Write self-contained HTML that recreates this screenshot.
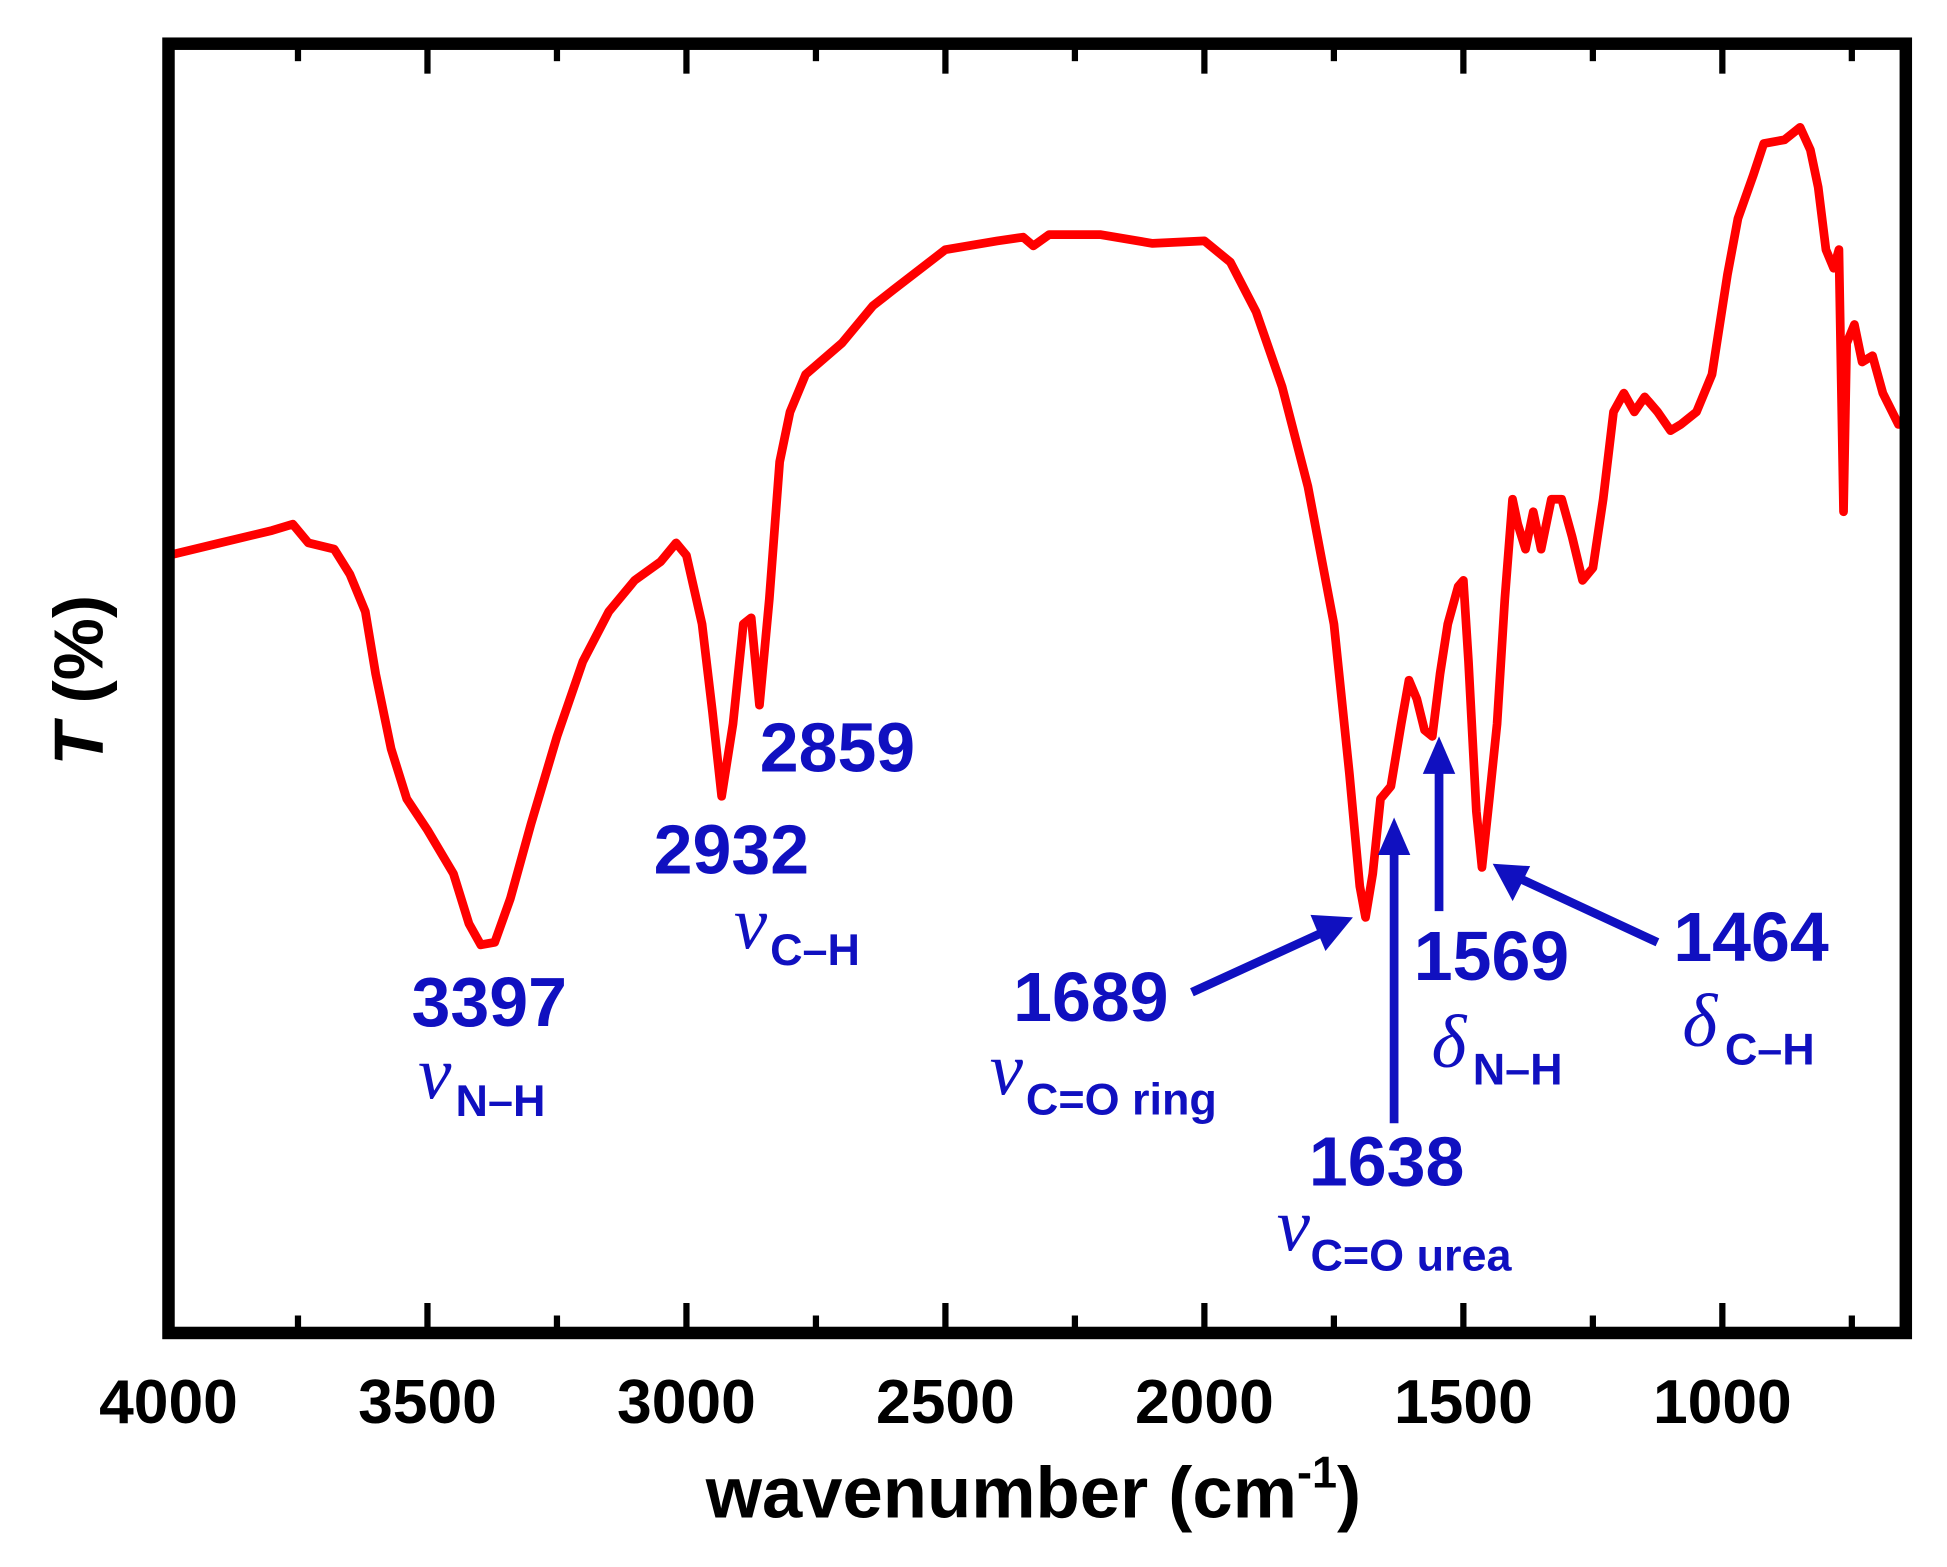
<!DOCTYPE html>
<html><head><meta charset="utf-8"><style>
html,body{margin:0;padding:0;background:#fff;}
svg{display:block;}
.tk{font:bold 50px "Liberation Sans",sans-serif;text-anchor:middle;fill:#000;}
.ann{font-family:"Liberation Sans",sans-serif;font-weight:bold;fill:#1010c0;}
.gr{font-family:"Liberation Serif",serif;font-style:italic;fill:#1010c0;}
</style></head><body>
<svg id="chart" width="1947" height="1567" viewBox="0 0 1560 1255.5" xmlns="http://www.w3.org/2000/svg">
<g id="ticks"></g>
<path id="spectrum" fill="none" stroke="#ff0000" stroke-width="7" stroke-linejoin="round"/>
<rect x="135" y="35" width="1392" height="1033" fill="none" stroke="#000" stroke-width="10"/>
<g id="ticklabels"></g>
<text x="828" y="1216" text-anchor="middle" style="font:bold 58px 'Liberation Sans',sans-serif">wavenumber (cm<tspan dy="-24" font-size="36">-1</tspan><tspan dy="24">)</tspan></text>
<text transform="translate(82,545) rotate(-90)" text-anchor="middle" style="font:bold 56px 'Liberation Sans',sans-serif"><tspan font-style="italic">T</tspan> (%)</text>
<g>
<g fill="#1010c0" stroke="#1010c0" stroke-width="7">
<line x1="955" y1="795" x2="1060" y2="747"/><polygon stroke="none" points="1084,735 1050,733 1062,762"/>
<line x1="1117" y1="900" x2="1117" y2="680"/><polygon stroke="none" points="1117,655 1104,685 1130,685"/>
<line x1="1153" y1="730" x2="1153" y2="615"/><polygon stroke="none" points="1153,590 1140,620 1166,620"/>
<line x1="1328" y1="755" x2="1218" y2="704"/><polygon stroke="none" points="1196,692 1212,722 1226,694"/>
</g>
<text class="ann" font-size="56" x="392" y="822" text-anchor="middle">3397</text>
<text class="gr" font-size="60" x="335" y="880">ν</text><text class="ann" font-size="36" x="365" y="894">N–H</text>
<text class="ann" font-size="56" x="586" y="700" text-anchor="middle">2932</text>
<text class="ann" font-size="56" x="671" y="618" text-anchor="middle">2859</text>
<text class="gr" font-size="60" x="588" y="760">ν</text><text class="ann" font-size="36" x="617" y="773">C–H</text>
<text class="ann" font-size="56" x="874" y="818" text-anchor="middle">1689</text>
<text class="gr" font-size="60" x="793" y="877">ν</text><text class="ann" font-size="36" x="822" y="893">C=O ring</text>
<text class="ann" font-size="56" x="1111" y="950" text-anchor="middle">1638</text>
<text class="gr" font-size="60" x="1023" y="1002">ν</text><text class="ann" font-size="36" x="1050" y="1018">C=O urea</text>
<text class="ann" font-size="56" x="1195" y="785" text-anchor="middle">1569</text>
<text class="gr" font-size="60" x="1147" y="855">δ</text><text class="ann" font-size="36" x="1180" y="869">N–H</text>
<text class="ann" font-size="56" x="1403" y="770" text-anchor="middle">1464</text>
<text class="gr" font-size="60" x="1348" y="838">δ</text><text class="ann" font-size="36" x="1382" y="853">C–H</text>
</g>
</svg>
<script>
const wavenumbers=[4000,3900,3800,3760,3730,3680,3650,3620,3600,3570,3540,3500,3450,3420,3397,3370,3340,3300,3250,3200,3150,3100,3050,3020,3000,2970,2950,2932,2910,2890,2875,2859,2840,2820,2800,2770,2700,2640,2600,2500,2400,2350,2330,2300,2200,2100,2000,1950,1900,1850,1800,1750,1720,1700,1689,1675,1660,1640,1620,1605,1590,1575,1560,1545,1530,1510,1500,1490,1475,1464,1450,1435,1420,1405,1395,1380,1365,1350,1330,1310,1290,1270,1250,1230,1210,1190,1170,1150,1125,1100,1080,1050,1020,990,970,940,920,880,850,830,815,800,785,775,766,760,745,730,710,690,660,650];
const pixY=[445,435,425,420,435,440,460,490,540,600,640,665,700,740,757,755,720,660,590,530,490,465,450,435,445,500,570,638,580,500,495,565,480,370,330,300,275,245,232,200,193,190,197,188,188,195,193,210,250,310,390,500,620,710,735,700,640,630,580,545,560,585,590,540,500,470,465,530,650,695,640,580,480,400,420,440,410,440,400,400,430,465,455,400,330,315,330,318,330,345,340,330,300,220,175,140,115,112,102,120,150,200,215,200,410,275,260,290,285,315,340,340];
const transmittance=pixY.map(p=>+((1068-p)/10.33).toFixed(2));
const majorTicks=[4000,3500,3000,2500,2000,1500,1000];
const minorTicks=[3750,3250,2750,2250,1750,1250,750];
const tickLabels=["4000","3500","3000","2500","2000","1500","1000"];
const X=w=>135+(4000-w)*0.415;
const Y=t=>1068-t*10.33;
const NS="http://www.w3.org/2000/svg";
let d="";
wavenumbers.forEach((w,i)=>{d+=(i?"L":"M")+X(w).toFixed(1)+","+Y(transmittance[i]).toFixed(1);});
document.getElementById("spectrum").setAttribute("d",d);
const tg=document.getElementById("ticks"),lg=document.getElementById("ticklabels");
function tick(w,len){
 [[1068,-1],[35,1]].forEach(([y0,s])=>{
  const l=document.createElementNS(NS,"line");
  l.setAttribute("x1",X(w));l.setAttribute("x2",X(w));
  l.setAttribute("y1",y0);l.setAttribute("y2",y0+s*len);
  l.setAttribute("stroke","#000");l.setAttribute("stroke-width","5");
  
  
  tg.appendChild(l);
 });
}
majorTicks.forEach(w=>tick(w,24));
minorTicks.forEach(w=>tick(w,14));
majorTicks.forEach((w,i)=>{
 const t=document.createElementNS(NS,"text");
 t.setAttribute("x",X(w));t.setAttribute("y",1140);t.setAttribute("class","tk");
 t.textContent=tickLabels[i];
 
 
 lg.appendChild(t);
});
</script>
</body></html>
